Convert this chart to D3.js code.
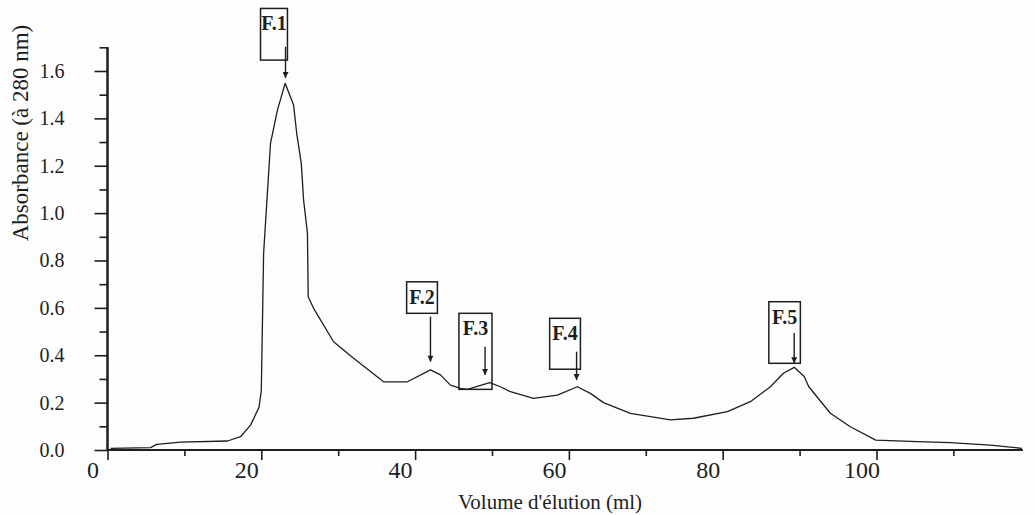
<!DOCTYPE html>
<html>
<head>
<meta charset="utf-8">
<script src="https://cdn.jsdelivr.net/npm/d3@7"></script>
<style>
  body { margin: 0; background: #fdfdfd; }
  svg { display: block; font-family: "Liberation Serif", "DejaVu Serif", serif; }
</style>
</head>
<body>
<svg width="1035" height="515"></svg>
<script>
// elution profile
const volume = [0.4, 5.6, 6.4, 9.5, 15.6, 17.3, 18.6, 19.7, 20.0, 20.3, 21.2, 22.1, 23.1, 24.2, 24.6, 25.2, 25.5, 26.0, 26.1, 26.8, 29.4, 32.0, 35.9, 39.0, 42.0, 43.3, 44.6, 45.9, 46.8, 49.7, 51.1, 52.4, 55.4, 58.5, 61.1, 62.8, 64.5, 68.0, 73.2, 76.2, 80.6, 83.6, 86.2, 87.9, 89.3, 90.6, 91.2, 94.0, 96.6, 99.9, 105.3, 109.6, 114.8, 118.9];
const absorbance = [0.007, 0.010, 0.024, 0.033, 0.038, 0.056, 0.105, 0.18, 0.25, 0.83, 1.295, 1.435, 1.548, 1.456, 1.338, 1.21, 1.055, 0.916, 0.647, 0.598, 0.457, 0.387, 0.288, 0.288, 0.338, 0.317, 0.274, 0.26, 0.256, 0.284, 0.267, 0.246, 0.218, 0.232, 0.267, 0.239, 0.2, 0.155, 0.127, 0.134, 0.162, 0.204, 0.267, 0.324, 0.349, 0.31, 0.267, 0.155, 0.098, 0.042, 0.035, 0.031, 0.021, 0.007];

// fraction markers (in ml / absorbance units)
const fractions = ["F.1", "F.2", "F.3", "F.4", "F.5"];
const arrowVol = [23.15, 42.0, 49.1, 61.0, 89.3];
const boxLeft = [19.9, 38.9, 45.7, 57.5, 86.0];
const boxRight = [23.4, 42.9, 50.0, 61.5, 90.1];
const boxTop = [1.864, 0.710, 0.577, 0.556, 0.626];
const boxBottom = [1.646, 0.577, 0.256, 0.341, 0.366];
const arrowFrom = [1.702, 0.563, 0.436, 0.415, 0.494];
const arrowTip = [1.570, 0.373, 0.317, 0.295, 0.366];

const xMajor = [0, 20, 40, 60, 80, 100];
const xMinor = [10, 30, 50, 70, 90, 110];
const yMajor = [0, 0.2, 0.4, 0.6, 0.8, 1.0, 1.2, 1.4, 1.6];
const yMinor = [0.1, 0.3, 0.5, 0.7, 0.9, 1.1, 1.3, 1.5, 1.7];

const ink = "#1e1e1e";
const serif = '"Liberation Serif", "DejaVu Serif", serif';
const svg = d3.select("svg");

const x = d3.scaleLinear().domain([0, 119]).range([107.5, 1022.6]);
const y = d3.scaleLinear().domain([0, 1.7]).range([450, 47.3]);

// x axis
const gx = svg.append("g").attr("transform", `translate(0,${y(0)})`);
gx.call(d3.axisBottom(x).tickValues(xMinor).tickSize(6).tickFormat(""));
gx.append("g").call(d3.axisBottom(x).tickValues(xMajor).tickSize(10).tickSizeOuter(0).tickFormat(d3.format("d")));
gx.selectAll("g").attr("font-family", null);
gx.attr("font-family", null).style("font-family", serif);
gx.selectAll("path.domain").attr("stroke", ink).attr("stroke-width", 2).attr("d", `M${x(0)},0H${x(119)}`);
gx.selectAll("line").attr("stroke", ink).attr("stroke-width", 1.6);
gx.selectAll("text")
  .attr("fill", ink).attr("font-size", 24).style("font-family", serif)
  .attr("dx", -15).attr("y", 28).attr("dy", 0);

// y axis
const gy = svg.append("g").attr("transform", `translate(${x(0)},0)`);
gy.call(d3.axisLeft(y).tickValues(yMinor).tickSize(8).tickFormat(""));
gy.append("g").call(d3.axisLeft(y).tickValues(yMajor).tickSize(13).tickSizeOuter(0).tickFormat(d3.format(".1f")));
gy.selectAll("g").attr("font-family", null);
gy.attr("font-family", null).style("font-family", serif);
gy.selectAll("path.domain").attr("stroke", ink).attr("stroke-width", 2).attr("d", `M0,${y(0) + 1}V${y(1.7)}`);
gy.selectAll("line").attr("stroke", ink).attr("stroke-width", 1.6);
gy.selectAll("text")
  .attr("fill", ink).attr("font-size", 20).style("font-family", serif)
  .attr("x", -43);

// axis titles
svg.append("text")
  .attr("transform", "translate(28,133) rotate(-90)")
  .attr("text-anchor", "middle")
  .attr("font-size", 23)
  .attr("fill", ink)
  .text("Absorbance (à 280 nm)");

svg.append("text")
  .attr("x", 550).attr("y", 509)
  .attr("text-anchor", "middle")
  .attr("font-size", 21)
  .attr("fill", ink)
  .text("Volume d'élution (ml)");

// elution curve
const line = d3.line().x(i => x(volume[i])).y(i => y(absorbance[i]));
svg.append("path")
  .attr("d", line(d3.range(volume.length)))
  .attr("fill", "none")
  .attr("stroke", ink)
  .attr("stroke-width", 1.3)
  .attr("stroke-linejoin", "round");

// arrowhead
svg.append("defs").append("marker")
  .attr("id", "head")
  .attr("viewBox", "0 0 10 10")
  .attr("refX", 10).attr("refY", 5)
  .attr("markerWidth", 9).attr("markerHeight", 6)
  .attr("markerUnits", "userSpaceOnUse")
  .attr("orient", "auto")
  .append("path")
  .attr("d", "M0,0L10,5L0,10Z")
  .attr("fill", ink);

const marks = svg.append("g").selectAll("g")
  .data(d3.range(fractions.length))
  .join("g");

marks.append("rect")
  .attr("x", i => x(boxLeft[i]))
  .attr("y", i => y(boxTop[i]))
  .attr("width", i => x(boxRight[i]) - x(boxLeft[i]))
  .attr("height", i => y(boxBottom[i]) - y(boxTop[i]))
  .attr("fill", "none")
  .attr("stroke", ink)
  .attr("stroke-width", 1.5);

marks.append("text")
  .attr("x", i => (x(boxLeft[i]) + x(boxRight[i])) / 2)
  .attr("y", i => y(boxTop[i]) + 22)
  .attr("text-anchor", "middle")
  .attr("font-size", 20)
  .attr("font-weight", "bold")
  .attr("fill", ink)
  .text(i => fractions[i]);

marks.append("line")
  .attr("x1", i => x(arrowVol[i]))
  .attr("x2", i => x(arrowVol[i]))
  .attr("y1", i => y(arrowFrom[i]))
  .attr("y2", i => y(arrowTip[i]))
  .attr("stroke", ink)
  .attr("stroke-width", 1.4)
  .attr("marker-end", "url(#head)");
</script>
</body>
</html>
